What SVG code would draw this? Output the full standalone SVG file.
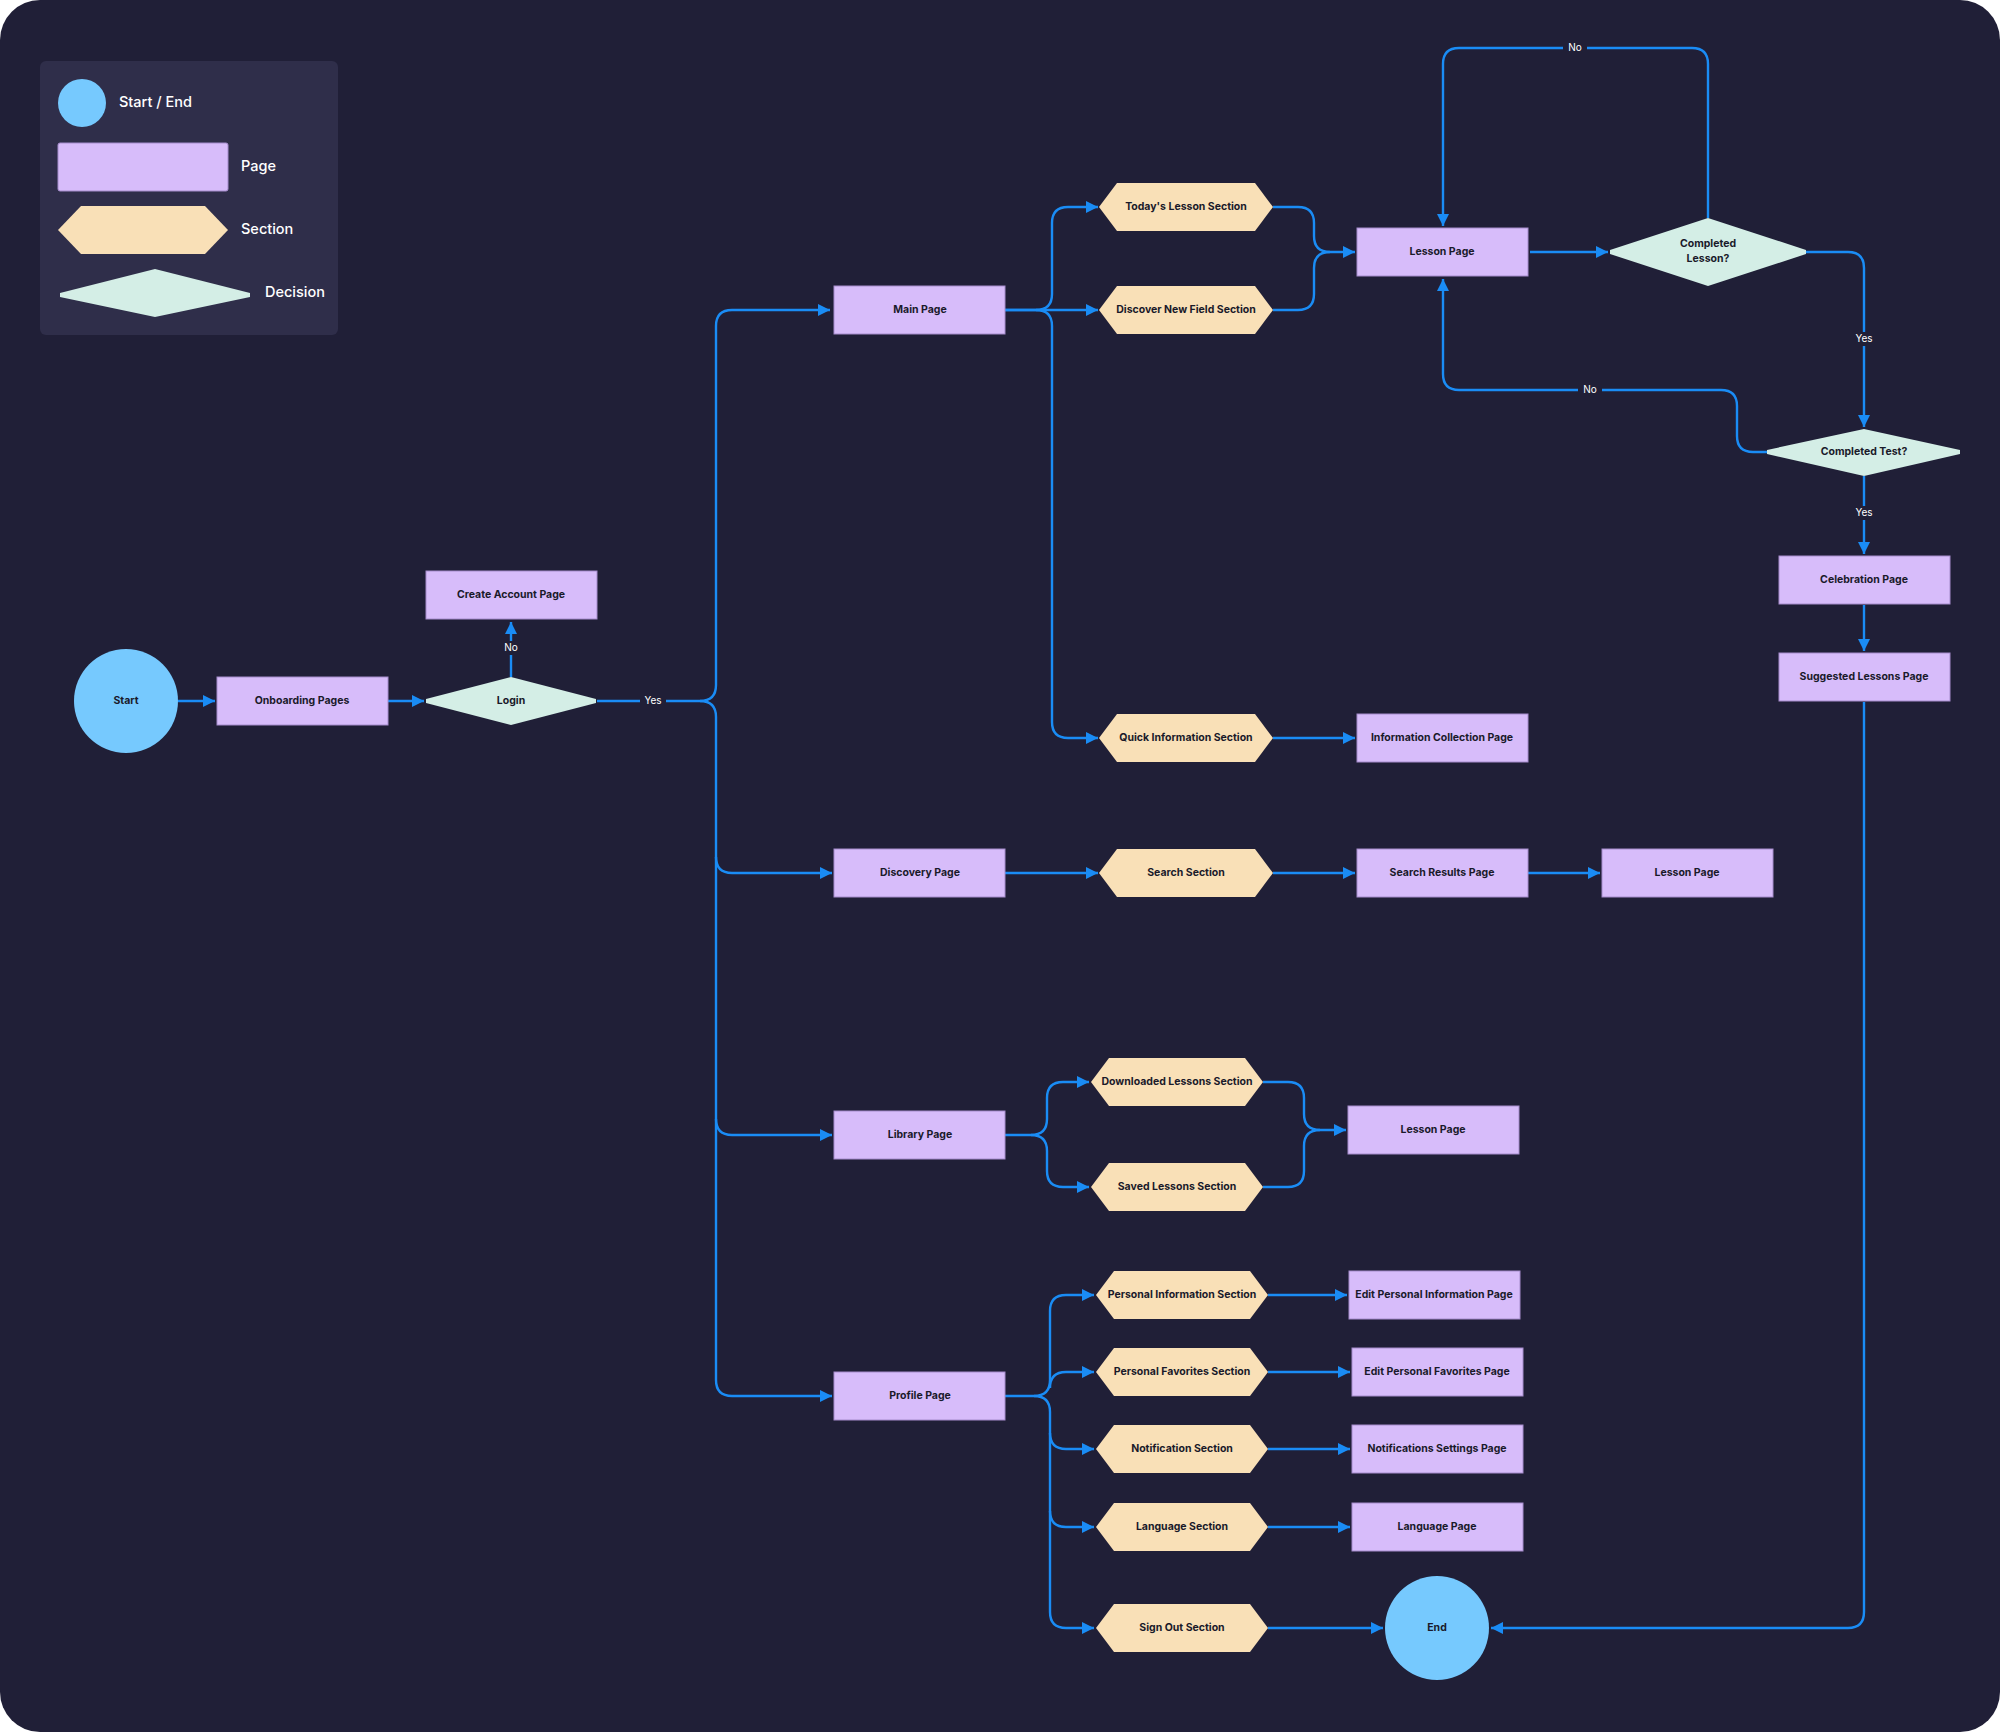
<svg xmlns="http://www.w3.org/2000/svg" width="2000" height="1732" viewBox="0 0 2000 1732">
<style>
.page{fill:#d7bcfa;stroke:#a58ccc;stroke-width:1}
.sec{fill:#f9e0b7}
.dec{fill:#d4eee6}
.se{fill:#76c9fe}
.t{font-family:Inter,"Liberation Sans",sans-serif;font-size:10.5px;font-weight:700;fill:#1a1a2a;text-anchor:middle;dominant-baseline:middle}
.lg{font-family:Inter,"Liberation Sans",sans-serif;font-size:14.5px;font-weight:500;fill:#ffffff;dominant-baseline:middle}
.lbl{font-family:Inter,"Liberation Sans",sans-serif;font-size:10px;fill:#ffffff;text-anchor:middle;dominant-baseline:middle}
.c{fill:none;stroke:#1a8cf5;stroke-width:2.4}
.c.a{marker-end:url(#ah)}
</style>
<defs>
<marker id="ah" markerUnits="userSpaceOnUse" markerWidth="14" markerHeight="14" viewBox="0 0 14 14" refX="13" refY="7" orient="auto"><path d="M1,1 L13,7 L1,13 Z" fill="#1a8cf5"/></marker>
</defs>
<rect x="0" y="0" width="2000" height="1732" fill="#ffffff"/>
<rect x="0" y="0" width="2000" height="1732" rx="40" fill="#201f37"/>
<g id="legend">
<rect x="40" y="61" width="298" height="274" rx="6" fill="#2f2e4a"/>
<circle cx="82" cy="103" r="24" class="se"/>
<text x="119" y="103" class="lg">Start / End</text>
<rect x="58" y="143" width="170" height="48" rx="2" class="page"/>
<text x="241" y="167" class="lg">Page</text>
<polygon points="81,206 205,206 228,230 205,254 81,254 58,230" class="sec"/>
<text x="241" y="230" class="lg">Section</text>
<polygon points="60,293 155,269 250,293 250,297 155,317 60,297" class="dec"/>
<text x="265" y="293" class="lg">Decision</text>
</g>
<g id="connectors">
<path class="c a" d="M178,701 H215"/>
<path class="c a" d="M388,701 H424"/>
<path class="c a" d="M511,677 V622"/>
<path class="c" d="M597,701 H700 Q716,701 716,685 V326 Q716,310 732,310 H830" marker-end="url(#ah)"/>
<path class="c a" d="M700,701 Q716,701 716,717 V1380 Q716,1396 732,1396 H832"/>
<path class="c a" d="M716,857 Q716,873 732,873 H832"/>
<path class="c a" d="M716,1119 Q716,1135 732,1135 H832"/>
<path class="c a" d="M1005,310 H1036 Q1052,310 1052,294 V223 Q1052,207 1068,207 H1098"/>
<path class="c a" d="M1005,310 H1098"/>
<path class="c a" d="M1036,310 Q1052,310 1052,326 V722 Q1052,738 1068,738 H1098"/>
<path class="c" d="M1273,207 H1298 Q1314,207 1314,223 V236 Q1314,252 1330,252"/>
<path class="c a" d="M1273,310 H1298 Q1314,310 1314,294 V268 Q1314,252 1330,252 H1355"/>
<path class="c a" d="M1530,252 H1608"/>
<path class="c a" d="M1708,218 V64 Q1708,48 1692,48 H1459 Q1443,48 1443,64 V226"/>
<path class="c a" d="M1806,252 H1848 Q1864,252 1864,268 V427"/>
<path class="c a" d="M1767,452 H1753 Q1737,452 1737,436 V406 Q1737,390 1721,390 H1459 Q1443,390 1443,374 V279"/>
<path class="c a" d="M1864,476 V554"/>
<path class="c a" d="M1864,605 V651"/>
<path class="c a" d="M1864,702 V1612 Q1864,1628 1848,1628 H1491"/>
<path class="c a" d="M1273,738 H1355"/>
<path class="c a" d="M1005,873 H1098"/>
<path class="c a" d="M1273,873 H1355"/>
<path class="c a" d="M1528,873 H1600"/>
<path class="c a" d="M1005,1135 H1031 Q1047,1135 1047,1119 V1098 Q1047,1082 1063,1082 H1089"/>
<path class="c a" d="M1031,1135 Q1047,1135 1047,1151 V1171 Q1047,1187 1063,1187 H1089"/>
<path class="c" d="M1263,1082 H1288 Q1304,1082 1304,1098 V1114 Q1304,1130 1320,1130"/>
<path class="c a" d="M1263,1187 H1288 Q1304,1187 1304,1171 V1146 Q1304,1130 1320,1130 H1346"/>
<path class="c a" d="M1005,1396 H1034 Q1050,1396 1050,1380 V1311 Q1050,1295 1066,1295 H1094"/>
<path class="c a" d="M1050,1388 Q1050,1372 1066,1372 H1094"/>
<path class="c a" d="M1034,1396 Q1050,1396 1050,1412 V1612 Q1050,1628 1066,1628 H1094"/>
<path class="c a" d="M1050,1433 Q1050,1449 1066,1449 H1094"/>
<path class="c a" d="M1050,1511 Q1050,1527 1066,1527 H1094"/>
<path class="c a" d="M1268,1295 H1347"/>
<path class="c a" d="M1268,1372 H1350"/>
<path class="c a" d="M1268,1449 H1350"/>
<path class="c a" d="M1268,1527 H1350"/>
<path class="c a" d="M1268,1628 H1383"/>
<rect x="500" y="641" width="22" height="14" fill="#201f37"/><text x="511" y="648" class="lbl">No</text>
<rect x="640" y="694" width="26" height="14" fill="#201f37"/><text x="653" y="701" class="lbl">Yes</text>
<rect x="1563" y="41" width="24" height="14" fill="#201f37"/><text x="1575" y="48" class="lbl">No</text>
<rect x="1851" y="332" width="26" height="14" fill="#201f37"/><text x="1864" y="339" class="lbl">Yes</text>
<rect x="1578" y="383" width="24" height="14" fill="#201f37"/><text x="1590" y="390" class="lbl">No</text>
<rect x="1851" y="506" width="26" height="14" fill="#201f37"/><text x="1864" y="513" class="lbl">Yes</text>
</g>
<g id="start"><circle cx="126" cy="701" r="52" class="se"/><text x="126" y="701" class="t">Start</text></g>
<g id="end"><circle cx="1437" cy="1628" r="52" class="se"/><text x="1437" y="1628" class="t">End</text></g>
<g id="onboarding"><rect x="217" y="677" width="171" height="48" class="page"/><text x="302" y="701" class="t">Onboarding Pages</text></g>
<g id="create"><rect x="426" y="571" width="171" height="48" class="page"/><text x="511" y="595" class="t">Create Account Page</text></g>
<g id="login"><polygon points="426,699 511,677 596,699 596,703 511,725 426,703" class="dec"/><text x="511" y="701" class="t">Login</text></g>
<g id="main"><rect x="834" y="286" width="171" height="48" class="page"/><text x="920" y="310" class="t">Main Page</text></g>
<g id="discovery"><rect x="834" y="849" width="171" height="48" class="page"/><text x="920" y="873" class="t">Discovery Page</text></g>
<g id="library"><rect x="834" y="1111" width="171" height="48" class="page"/><text x="920" y="1135" class="t">Library Page</text></g>
<g id="profile"><rect x="834" y="1372" width="171" height="48" class="page"/><text x="920" y="1396" class="t">Profile Page</text></g>
<g id="today"><polygon points="1117,183 1255,183 1273,207 1255,231 1117,231 1099,207" class="sec"/><text x="1186" y="207" class="t">Today's Lesson Section</text></g>
<g id="discover"><polygon points="1117,286 1255,286 1273,310 1255,334 1117,334 1099,310" class="sec"/><text x="1186" y="310" class="t">Discover New Field Section</text></g>
<g id="quick"><polygon points="1117,714 1255,714 1273,738 1255,762 1117,762 1099,738" class="sec"/><text x="1186" y="738" class="t">Quick Information Section</text></g>
<g id="infocol"><rect x="1357" y="714" width="171" height="48" class="page"/><text x="1442" y="738" class="t">Information Collection Page</text></g>
<g id="search"><polygon points="1117,849 1255,849 1273,873 1255,897 1117,897 1099,873" class="sec"/><text x="1186" y="873" class="t">Search Section</text></g>
<g id="results"><rect x="1357" y="849" width="171" height="48" class="page"/><text x="1442" y="873" class="t">Search Results Page</text></g>
<g id="lesson2"><rect x="1602" y="849" width="171" height="48" class="page"/><text x="1687" y="873" class="t">Lesson Page</text></g>
<g id="lesson1"><rect x="1357" y="228" width="171" height="48" class="page"/><text x="1442" y="252" class="t">Lesson Page</text></g>
<g id="complesson"><polygon points="1610,250 1708,218 1806,250 1806,254 1708,286 1610,254" class="dec"/><text x="1708" y="244" class="t">Completed</text><text x="1708" y="259" class="t">Lesson?</text></g>
<g id="comptest"><polygon points="1767,450 1864,429 1960,450 1960,454 1864,476 1767,454" class="dec"/><text x="1864" y="452" class="t">Completed Test?</text></g>
<g id="celebration"><rect x="1779" y="556" width="171" height="48" class="page"/><text x="1864" y="580" class="t">Celebration Page</text></g>
<g id="suggested"><rect x="1779" y="653" width="171" height="48" class="page"/><text x="1864" y="677" class="t">Suggested Lessons Page</text></g>
<g id="downloaded"><polygon points="1109,1058 1245,1058 1263,1082 1245,1106 1109,1106 1091,1082" class="sec"/><text x="1177" y="1082" class="t">Downloaded Lessons Section</text></g>
<g id="saved"><polygon points="1109,1163 1245,1163 1263,1187 1245,1211 1109,1211 1091,1187" class="sec"/><text x="1177" y="1187" class="t">Saved Lessons Section</text></g>
<g id="lesson3"><rect x="1348" y="1106" width="171" height="48" class="page"/><text x="1433" y="1130" class="t">Lesson Page</text></g>
<g id="persinfo"><polygon points="1114,1271 1250,1271 1268,1295 1250,1319 1114,1319 1096,1295" class="sec"/><text x="1182" y="1295" class="t">Personal Information Section</text></g>
<g id="persfav"><polygon points="1114,1348 1250,1348 1268,1372 1250,1396 1114,1396 1096,1372" class="sec"/><text x="1182" y="1372" class="t">Personal Favorites Section</text></g>
<g id="notif"><polygon points="1114,1425 1250,1425 1268,1449 1250,1473 1114,1473 1096,1449" class="sec"/><text x="1182" y="1449" class="t">Notification Section</text></g>
<g id="lang"><polygon points="1114,1503 1250,1503 1268,1527 1250,1551 1114,1551 1096,1527" class="sec"/><text x="1182" y="1527" class="t">Language Section</text></g>
<g id="signout"><polygon points="1114,1604 1250,1604 1268,1628 1250,1652 1114,1652 1096,1628" class="sec"/><text x="1182" y="1628" class="t">Sign Out Section</text></g>
<g id="editinfo"><rect x="1349" y="1271" width="171" height="48" class="page"/><text x="1434" y="1295" class="t">Edit Personal Information Page</text></g>
<g id="editfav"><rect x="1352" y="1348" width="171" height="48" class="page"/><text x="1437" y="1372" class="t">Edit Personal Favorites Page</text></g>
<g id="notifset"><rect x="1352" y="1425" width="171" height="48" class="page"/><text x="1437" y="1449" class="t">Notifications Settings Page</text></g>
<g id="langpage"><rect x="1352" y="1503" width="171" height="48" class="page"/><text x="1437" y="1527" class="t">Language Page</text></g>
</svg>
